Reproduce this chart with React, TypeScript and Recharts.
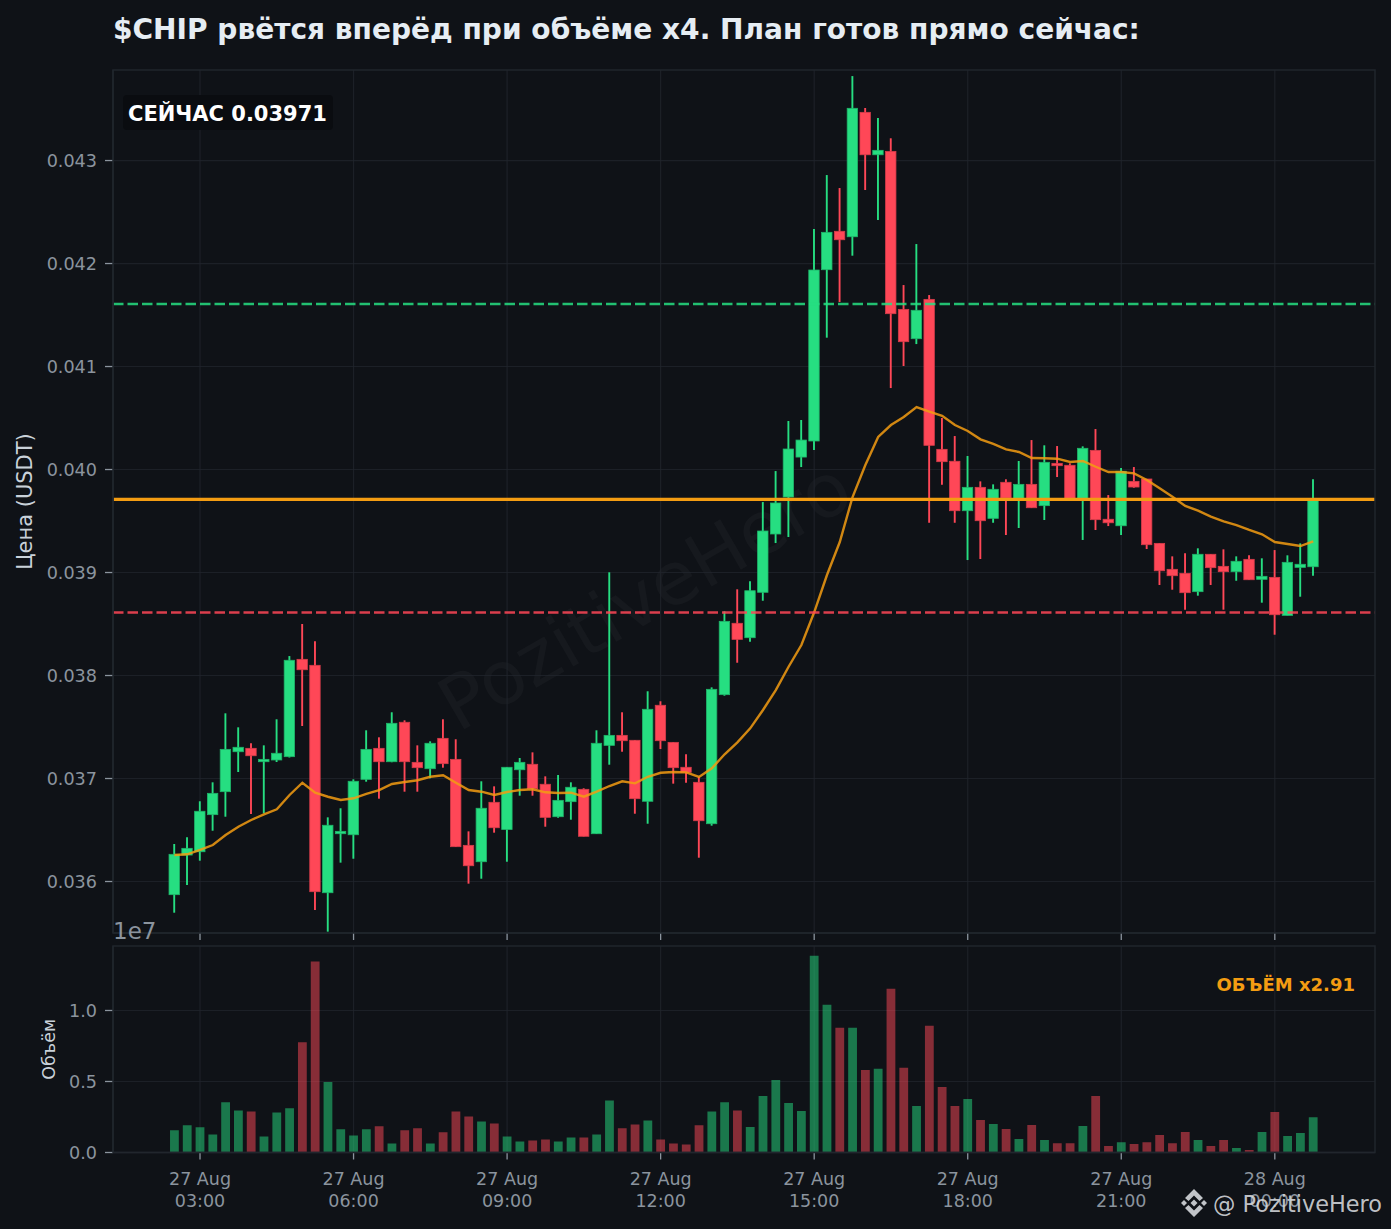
import React from 'react';
import { ComposedChart, Bar, Line, XAxis, YAxis, CartesianGrid, ReferenceLine, Cell } from 'recharts';

const openPrices = [
  0.035872, 0.036257, 0.036289, 0.036649, 0.036872, 0.03726, 0.037293, 0.037163, 0.03718, 0.037212,
  0.038157, 0.038099, 0.035891, 0.036464, 0.036454, 0.036992, 0.037293, 0.037163, 0.037546, 0.037157,
  0.037095, 0.03739, 0.037186, 0.036351, 0.036192, 0.036769, 0.036505, 0.037085, 0.037138, 0.036944,
  0.036629, 0.036775, 0.036895, 0.036464, 0.037322, 0.037419, 0.037371, 0.036779, 0.037711, 0.037351,
  0.037109, 0.036963, 0.036561, 0.037814, 0.038507, 0.038367, 0.038808, 0.039374, 0.039733, 0.040121,
  0.040277, 0.04194, 0.042313, 0.04226, 0.043468, 0.043056, 0.043089, 0.041555, 0.04127, 0.041652,
  0.040196, 0.04008, 0.0396, 0.039827, 0.039526, 0.039876, 0.03972, 0.039856, 0.039649, 0.04006,
  0.040041, 0.03972, 0.040186, 0.039517, 0.039454, 0.039885, 0.039908, 0.039283, 0.039031, 0.038992,
  0.038814, 0.039177, 0.03906, 0.039008, 0.039128, 0.038934, 0.038953, 0.038584, 0.03905, 0.039056,
];
const closePrices = [
  0.036264, 0.036322, 0.036682, 0.036856, 0.037283, 0.037303, 0.037221, 0.037186, 0.037245, 0.038148,
  0.038056, 0.035901, 0.036546, 0.036487, 0.036973, 0.037283, 0.037163, 0.037536, 0.037163, 0.037105,
  0.037342, 0.037144, 0.036338, 0.036153, 0.036711, 0.036522, 0.037109, 0.037157, 0.036901, 0.036623,
  0.036788, 0.036915, 0.036439, 0.037342, 0.037419, 0.037367, 0.036804, 0.037672, 0.037367, 0.037105,
  0.03706, 0.03659, 0.037866, 0.038526, 0.038351, 0.038823, 0.039403, 0.039675, 0.040199, 0.040286,
  0.041937, 0.042303, 0.042231, 0.043507, 0.043056, 0.043099, 0.041513, 0.041241, 0.041546, 0.040235,
  0.040076, 0.0396, 0.039827, 0.039503, 0.039808, 0.039723, 0.039856, 0.039629, 0.04007, 0.040037,
  0.03972, 0.040206, 0.039513, 0.039483, 0.039983, 0.03983, 0.03927, 0.039017, 0.038969, 0.038804,
  0.039177, 0.039047, 0.039008, 0.039109, 0.03893, 0.038963, 0.03859, 0.039099, 0.03908, 0.039711,
];
const highPrices = [
  0.036364, 0.036429, 0.036779, 0.036963, 0.037633, 0.037497, 0.037342, 0.037322, 0.037575, 0.038189,
  0.0385, 0.038332, 0.036623, 0.036711, 0.036992, 0.037468, 0.0374, 0.037643, 0.037565, 0.037322,
  0.037361, 0.037575, 0.037381, 0.036487, 0.036973, 0.036924, 0.037112, 0.037199, 0.037254, 0.037021,
  0.037034, 0.036963, 0.036905, 0.037468, 0.039002, 0.037643, 0.037374, 0.037847, 0.03775, 0.037354,
  0.037235, 0.037017, 0.037885, 0.038623, 0.038837, 0.038915, 0.039684, 0.039985, 0.040471, 0.040481,
  0.042335, 0.042859, 0.042733, 0.04382, 0.04351, 0.043413, 0.043216, 0.041791, 0.042189, 0.041694,
  0.0405, 0.040325, 0.040131, 0.039885, 0.039856, 0.039905, 0.040083, 0.040286, 0.040235, 0.040228,
  0.04006, 0.040225, 0.040393, 0.039752, 0.040015, 0.040024, 0.039908, 0.039286, 0.039157, 0.039186,
  0.039235, 0.03918, 0.039225, 0.039157, 0.039167, 0.039138, 0.039218, 0.039167, 0.039283, 0.039905,
];
const lowPrices = [
  0.035697, 0.035966, 0.036202, 0.036493, 0.036629, 0.037063, 0.036655, 0.036662, 0.03716, 0.037204,
  0.03751, 0.035723, 0.035513, 0.036183, 0.036221, 0.036969, 0.036804, 0.037158, 0.036872, 0.036872,
  0.037002, 0.037105, 0.036335, 0.035979, 0.036027, 0.036474, 0.036192, 0.036833, 0.036833, 0.036532,
  0.036619, 0.0366, 0.036437, 0.036461, 0.037134, 0.03726, 0.036658, 0.036561, 0.037286, 0.03695,
  0.036959, 0.036231, 0.036542, 0.037804, 0.038124, 0.038328, 0.038726, 0.039286, 0.039345, 0.040024,
  0.040189, 0.04128, 0.041626, 0.042076, 0.042714, 0.042422, 0.040791, 0.041005, 0.041218, 0.039483,
  0.039852, 0.039483, 0.039121, 0.039131, 0.039483, 0.039364, 0.039432, 0.039626, 0.03951, 0.039927,
  0.039718, 0.039316, 0.039413, 0.039451, 0.039364, 0.039823, 0.039228, 0.038879, 0.038833, 0.038639,
  0.038775, 0.038879, 0.038639, 0.03892, 0.038927, 0.038707, 0.038396, 0.038583, 0.038765, 0.038969,
];
const maPrices = [
  0.036257, 0.036264, 0.036306, 0.036354, 0.036451, 0.036532, 0.036597, 0.036652, 0.036701, 0.03684,
  0.036959, 0.036862, 0.036823, 0.036791, 0.036808, 0.03685, 0.036888, 0.036947, 0.036966, 0.036983,
  0.037017, 0.037031, 0.036959, 0.036888, 0.036872, 0.03684, 0.036869, 0.036888, 0.036895, 0.036866,
  0.036859, 0.036862, 0.036823, 0.036872, 0.036927, 0.036973, 0.036953, 0.037017, 0.037056, 0.037063,
  0.03706, 0.037015, 0.037099, 0.037235, 0.037351, 0.037487, 0.037665, 0.037859, 0.038085, 0.038296,
  0.038614, 0.038976, 0.039296, 0.039733, 0.040044, 0.040316, 0.040432, 0.04051, 0.040607, 0.040561,
  0.040522, 0.040432, 0.040374, 0.040293, 0.040248, 0.040196, 0.04017, 0.040112, 0.040109, 0.040105,
  0.040073, 0.040083, 0.040027, 0.039976, 0.039976, 0.039963, 0.039898, 0.039817, 0.039736, 0.039646,
  0.0396, 0.039542, 0.039497, 0.039461, 0.039413, 0.039371, 0.039296, 0.039277, 0.039257, 0.039303,
];
// volume in units of 1e7
const volumes = [
  0.156, 0.191, 0.177, 0.127, 0.353, 0.296, 0.289, 0.113, 0.282, 0.311,
  0.776, 1.345, 0.496, 0.163, 0.12, 0.163, 0.184, 0.064, 0.156, 0.17,
  0.064, 0.142, 0.289, 0.254, 0.219, 0.205, 0.113, 0.078, 0.085, 0.092,
  0.078, 0.106, 0.106, 0.127, 0.367, 0.17, 0.198, 0.226, 0.092, 0.064,
  0.057, 0.191, 0.289, 0.353, 0.296, 0.179, 0.397, 0.51, 0.348, 0.292,
  1.385, 1.04, 0.878, 0.878, 0.581, 0.589, 1.153, 0.596, 0.327, 0.892,
  0.462, 0.327, 0.376, 0.228, 0.2, 0.165, 0.095, 0.193, 0.088, 0.066,
  0.066, 0.186, 0.397, 0.045, 0.073, 0.059, 0.073, 0.123, 0.066, 0.144,
  0.088, 0.045, 0.088, 0.031, 0.017, 0.144, 0.285, 0.116, 0.137, 0.249,
];

const xTicks = [2, 14, 26, 38, 50, 62, 74, 86];
const tickDates = ['27 Aug', '27 Aug', '27 Aug', '27 Aug', '27 Aug', '27 Aug', '27 Aug', '28 Aug'];
const tickTimes = ['03:00', '06:00', '09:00', '12:00', '15:00', '18:00', '21:00', '00:00'];
const priceTicks = [0.036, 0.037, 0.038, 0.039, 0.04, 0.041, 0.042, 0.043];
const volumeTicks = [0, 0.5, 1];

const takeProfit = 0.041607;
const currentPrice = 0.03971;
const stopLoss = 0.038612;

const BG = '#0f1217';
const GREEN = '#26de81';
const RED = '#ff4757';
const ORANGE = '#f39c12';
const GRID = '#21262d';
const MUTED = '#8b949e';
const FONT = '"DejaVu Sans", sans-serif';
const xDomain = [-4.8, 93.83];

const candles = openPrices.map((open, i) => ({
  i,
  open,
  close: closePrices[i],
  high: highPrices[i],
  low: lowPrices[i],
  ma: maPrices[i],
  volume: volumes[i],
  range: [lowPrices[i], highPrices[i]],
}));

function Candle(props: any) {
  const { x, y, width, height, payload } = props;
  const { open, close, high, low } = payload;
  const perUnit = Math.abs(height) / (high - low);
  const top = y + (high - Math.max(open, close)) * perUnit;
  const h = Math.max(Math.abs(close - open) * perUnit, 1);
  const up = close >= open;
  const cx = x + width / 2;
  return (
    <g>
      <line x1={cx} x2={cx} y1={y} y2={y + Math.abs(height)} stroke={up ? GREEN : RED} strokeWidth={1.9} />
      <rect x={cx - 5.2} y={top} width={10.4} height={h} fill={up ? GREEN : RED} stroke={up ? '#1fb56a' : '#d63c4a'} strokeWidth={0.8} />
    </g>
  );
}

function DateTick(props: any) {
  const { x, y, index } = props;
  return (
    <text x={x} y={y} textAnchor="middle" fill={MUTED} fontSize={17.5} fontFamily={FONT}>
      <tspan x={x} dy={23}>{tickDates[index]}</tspan>
      <tspan x={x} dy={22}>{tickTimes[index]}</tspan>
    </text>
  );
}

export default function App() {
  return (
    <div style={{ position: 'absolute', left: 0, top: 0, width: 1391, height: 1229, background: BG, overflow: 'hidden', fontFamily: FONT }}>
      <svg width={1391} height={1229} style={{ position: 'absolute', left: 0, top: 0 }}>
        <text x={0} y={0} transform="translate(458,733) rotate(-30)" fontSize={74} fill="#ffffff" fillOpacity={0.032} fontFamily={FONT}>PozitiveHero</text>
      </svg>

      <div style={{ position: 'absolute', left: 0, top: 0 }}>
        <ComposedChart width={1391} height={945} data={candles} margin={{ top: 70, right: 16, bottom: 0, left: 0 }}>
          <XAxis dataKey="i" type="number" domain={xDomain} ticks={xTicks} interval={0} height={12} allowDataOverflow
            tickFormatter={() => ''} tickSize={7} tickLine={{ stroke: MUTED, strokeWidth: 1.3 }} axisLine={{ stroke: GRID, strokeWidth: 1.5 }} />
          <YAxis type="number" domain={[0.0355, 0.043879]} ticks={priceTicks} interval={0} width={113} allowDataOverflow
            tickFormatter={(v: number) => v.toFixed(3)} tickSize={8} tickMargin={8}
            tick={{ fill: MUTED, fontSize: 17.6, fontFamily: FONT }} tickLine={{ stroke: MUTED, strokeWidth: 1.3 }} axisLine={{ stroke: GRID, strokeWidth: 1.5 }}
            label={{ value: 'Цена (USDT)', angle: -90, position: 'insideLeft', offset: 25, fill: '#c9d1d9', fontSize: 21, fontFamily: FONT, style: { textAnchor: 'middle' } }} />
          <Bar dataKey="range" barSize={10.4} shape={Candle} isAnimationActive={false} />
          <CartesianGrid horizontalValues={priceTicks} verticalValues={xTicks} stroke={GRID} strokeOpacity={0.75} strokeWidth={1.2} />
          <Line dataKey="ma" stroke={ORANGE} strokeOpacity={0.85} strokeWidth={2.4} dot={false} isAnimationActive={false} />
          <ReferenceLine y={takeProfit} stroke={GREEN} strokeOpacity={0.85} strokeWidth={2.5} strokeDasharray="10.5 4" />
          <ReferenceLine y={stopLoss} stroke={RED} strokeOpacity={0.85} strokeWidth={2.5} strokeDasharray="10.5 4" />
          <ReferenceLine y={currentPrice} stroke={ORANGE} strokeWidth={3.2} />
        </ComposedChart>
      </div>

      <div style={{ position: 'absolute', left: 0, top: 946 }}>
        <ComposedChart width={1391} height={283} data={candles} margin={{ top: 0, right: 16, bottom: 0, left: 0 }}>
          <XAxis dataKey="i" type="number" domain={xDomain} ticks={xTicks} interval={0} height={76.5} allowDataOverflow
            tick={DateTick} tickSize={7} tickLine={{ stroke: MUTED, strokeWidth: 1.3 }} axisLine={{ stroke: GRID, strokeWidth: 1.5 }} />
          <YAxis type="number" domain={[0, 1.454]} ticks={volumeTicks} interval={0} width={113} allowDataOverflow
            tickFormatter={(v: number) => v.toFixed(1)} tickSize={8} tickMargin={8}
            tick={{ fill: MUTED, fontSize: 17.6, fontFamily: FONT }} tickLine={{ stroke: MUTED, strokeWidth: 1.3 }} axisLine={{ stroke: GRID, strokeWidth: 1.5 }}
            label={{ value: 'Объём', angle: -90, position: 'insideLeft', offset: 49, fill: '#c9d1d9', fontSize: 17.5, fontFamily: FONT, style: { textAnchor: 'middle' } }} />
          <Bar dataKey="volume" barSize={8.8} isAnimationActive={false}>
            {candles.map(c => (
              <Cell key={c.i} fill={c.close >= c.open ? GREEN : RED} fillOpacity={0.5} />
            ))}
          </Bar>
          <CartesianGrid horizontalValues={volumeTicks} verticalValues={xTicks} stroke={GRID} strokeOpacity={0.75} strokeWidth={1.2} />
        </ComposedChart>
      </div>

      <svg width={1391} height={1229} style={{ position: 'absolute', left: 0, top: 0, pointerEvents: 'none' }} fontFamily={FONT}>
        <rect x={113} y={70} width={1262} height={863} fill="none" stroke={GRID} strokeWidth={1.5} />
        <rect x={113} y={946} width={1262} height={206.5} fill="none" stroke={GRID} strokeWidth={1.5} />
        <text x={113} y={39} fontSize={28.05} fontWeight="bold" fill="#e6edf3">$CHIP рвётся вперёд при объёме x4. План готов прямо сейчас:</text>
        <rect x={123} y={95} width={210} height={35} rx={4} fill="#0a0c10" />
        <text x={128} y={121} fontSize={21} fontWeight="bold" fill="#ffffff">СЕЙЧАС 0.03971</text>
        <text x={113} y={939} fontSize={23} fill={MUTED}>1e7</text>
        <text x={1355} y={991} textAnchor="end" fontSize={18} fontWeight="bold" fill={ORANGE}>ОБЪЁМ x2.91</text>
        <g fill="#d5d8dc" fillOpacity={0.9}>
          <polygon points="1194,1189 1203,1198 1199.5,1201 1194,1195.5 1188.5,1201 1185,1198" />
          <polygon points="1194,1217 1203,1208 1199.5,1205 1194,1210.5 1188.5,1205 1185,1208" />
          <polygon points="1181,1203 1184,1200 1187,1203 1184,1206" />
          <polygon points="1207,1203 1204,1200 1201,1203 1204,1206" />
          <polygon points="1194,1199.5 1197.5,1203 1194,1206.5 1190.5,1203" />
        </g>
        <text x={1213} y={1212} fontSize={22.4} fill="#d5d8dc" fillOpacity={0.9}>@ PozitiveHero</text>
      </svg>
    </div>
  );
}
